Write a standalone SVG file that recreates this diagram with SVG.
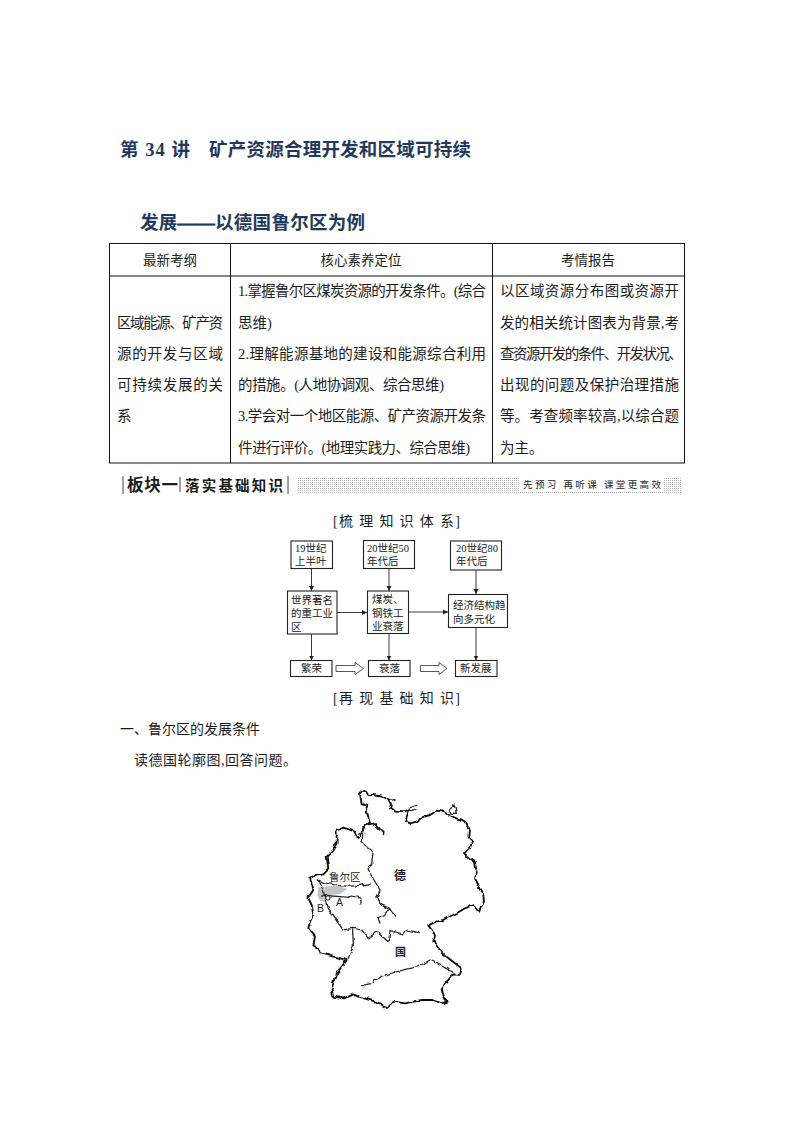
<svg xmlns="http://www.w3.org/2000/svg" width="794" height="1123" viewBox="0 0 794 1123">
<style>
text{font-family:"Liberation Serif","Noto Sans CJK SC",serif;fill:#1c1c1c}
.title{font-size:18.5px;font-weight:700;fill:#1f3a5c}
.hd{font-size:13.5px;text-anchor:middle}
.td{font-size:14.5px}
.sec{font-size:14px}
.fl{font-size:10.5px;fill:#222}
.box{fill:#fff;stroke:#222;stroke-width:1.1}
.con{fill:none;stroke:#222;stroke-width:.9;marker-end:url(#ah)}
.grid{fill:none;stroke:#111;stroke-width:1}
.big{fill:none;stroke:#444;stroke-width:.9}
.m1{fill:none;stroke:#111;stroke-width:5.5;stroke-linejoin:round;stroke-linecap:round}
.m2{fill:none;stroke:#222;stroke-width:3.8;stroke-linejoin:round;stroke-linecap:round}
.lat{font-family:"Liberation Sans",sans-serif;font-size:10.5px}
</style>
<defs>
<marker id="ah" markerWidth="6" markerHeight="6" refX="5" refY="2.5" orient="auto" markerUnits="userSpaceOnUse"><path d="M0 0L5 2.5L0 5z" fill="#222"/></marker>
<pattern id="dots" width="2" height="2" patternUnits="userSpaceOnUse"><rect width="2" height="2" fill="#fff"/><rect width="1" height="1" fill="#b5b5b5"/></pattern>
<filter id="wiggle" x="-5%" y="-5%" width="110%" height="110%"><feTurbulence type="fractalNoise" baseFrequency="0.045" numOctaves="2" seed="4"/><feDisplacementMap in="SourceGraphic" scale="14" xChannelSelector="R" yChannelSelector="G"/></filter>
</defs>
<rect width="794" height="1123" fill="#fff"/>
<g id="title">
<text class="title" x="120" y="156" textLength="70">第 34 讲</text>
<text class="title" x="209" y="156" textLength="262">矿产资源合理开发和区域可持续</text>
<text class="title" x="140" y="229" textLength="225">发展<tspan stroke="#1f3a5c" stroke-width=".7">——</tspan>以德国鲁尔区为例</text>
</g>
<g id="table">
<rect class="grid" x="109.5" y="243.5" width="575" height="219.5"/>
<path class="grid" d="M109.5 276H684.5M230.5 243.5V463M492.5 243.5V463"/>
<text class="hd" x="170" y="265">最新考纲</text>
<text class="hd" x="361" y="265">核心素养定位</text>
<text class="hd" x="588" y="265">考情报告</text>
<text class="td" x="117" y="328" textLength="106">区域能源、矿产资</text>
<text class="td" x="117" y="359" textLength="106">源的开发与区域</text>
<text class="td" x="117" y="390" textLength="106">可持续发展的关</text>
<text class="td" x="117" y="421">系</text>
<text class="td" x="238" y="296" textLength="248">1.掌握鲁尔区煤炭资源的开发条件。(综合</text>
<text class="td" x="238" y="328">思维)</text>
<text class="td" x="238" y="359" textLength="248">2.理解能源基地的建设和能源综合利用</text>
<text class="td" x="238" y="390" textLength="206">的措施。(人地协调观、综合思维)</text>
<text class="td" x="238" y="421" textLength="248">3.学会对一个地区能源、矿产资源开发条</text>
<text class="td" x="238" y="453" textLength="232">件进行评价。(地理实践力、综合思维)</text>
<text class="td" x="500" y="296" textLength="179">以区域资源分布图或资源开</text>
<text class="td" x="500" y="328" textLength="179">发的相关统计图表为背景,考</text>
<text class="td" x="500" y="359" textLength="183">查资源开发的条件、开发状况、</text>
<text class="td" x="500" y="390" textLength="179">出现的问题及保护治理措施</text>
<text class="td" x="500" y="421" textLength="179">等。考查频率较高,以综合题</text>
<text class="td" x="500" y="453">为主。</text>
</g>
<g id="banner">
<rect x="297" y="477" width="384" height="16" fill="url(#dots)"/>
<rect x="520" y="478" width="144" height="14" fill="#fff"/>
<path d="M123 476V494M180 477V492M288 476V494" stroke="#444" stroke-width="1" fill="none"/>
<text x="127" y="491" font-size="16.5" font-weight="700" fill="#000" textLength="51">板块一</text>
<text x="185" y="491" font-size="14.5" font-weight="700" textLength="98">落实基础知识</text>
<text x="523" y="488" font-size="9.5" textLength="138">先预习 再听课 课堂更高效</text>
</g>
<text class="sec" x="333" y="526" textLength="127">[梳 理 知 识 体 系]</text>
<g id="connectors">
<path class="con" d="M311.5 568.5V591"/>
<path class="con" d="M389 568.5V591"/>
<path class="con" d="M476 570V594"/>
<path class="con" d="M337 612.5H367"/>
<path class="con" d="M408.5 612H448"/>
<path class="con" d="M311.5 634V660.5"/>
<path class="con" d="M389 633.5V660.5"/>
<path class="con" d="M476 628V660.5"/>
<path class="big" d="M336 665.5H355V662.5L363.5 668.5L355 674.5V671.5H336Z"/>
<path class="big" d="M420.5 665.5H439V662.5L447 668.5L439 674.5V671.5H420.5Z"/>
</g>
<g id="n1"><rect class="box" x="291" y="541" width="41.5" height="27.5"/><text class="fl"><tspan x="295" y="552">19世纪</tspan><tspan x="295" y="565">上半叶</tspan></text></g>
<g id="n2"><rect class="box" x="363.5" y="540.5" width="51" height="28"/><text class="fl"><tspan x="367" y="552">20世纪50</tspan><tspan x="367" y="565">年代后</tspan></text></g>
<g id="n3"><rect class="box" x="450.5" y="541" width="51" height="29"/><text class="fl"><tspan x="456" y="552">20世纪80</tspan><tspan x="456" y="565">年代后</tspan></text></g>
<g id="n4"><rect class="box" x="287.5" y="591" width="49.5" height="43"/><text class="fl"><tspan x="291" y="604">世界著名</tspan><tspan x="291" y="617">的重工业</tspan><tspan x="291" y="631">区</tspan></text></g>
<g id="n5"><rect class="box" x="367.5" y="591" width="41" height="42.5"/><text class="fl"><tspan x="372" y="603">煤炭、</tspan><tspan x="372" y="617">钢铁工</tspan><tspan x="372" y="630">业衰落</tspan></text></g>
<g id="n6"><rect class="box" x="448.5" y="594.5" width="59" height="33"/><text class="fl"><tspan x="453" y="609">经济结构趋</tspan><tspan x="453" y="623">向多元化</tspan></text></g>
<g id="n7"><rect class="box" x="290.5" y="660.5" width="41.5" height="16"/><text class="fl" x="301" y="672">繁荣</text></g>
<g id="n8"><rect class="box" x="368.5" y="660.5" width="41.5" height="16"/><text class="fl" x="379" y="672">衰落</text></g>
<g id="n9"><rect class="box" x="455.5" y="660.5" width="41.5" height="16"/><text class="fl" x="460" y="672">新发展</text></g>
<text class="sec" x="333" y="703" textLength="127">[再 现 基 础 知 识]</text>
<text class="sec" x="120" y="734" textLength="140">一、鲁尔区的发展条件</text>
<text class="sec" x="134" y="765" textLength="163">读德国轮廓图,回答问题。</text>
<g id="map" transform="translate(290 780) scale(.33333)">
<path d="M85 322L145 316L172 328L150 342L118 345L105 365L90 362L82 345Z" fill="#c4c4c4"/>
<g filter="url(#wiggle)">
<path class="m1" d="M210 40L218 32L228 35L235 45L250 45L275 50L295 60L303 75L300 85L320 95L345 97L358 90L350 110L345 125L360 130L380 125L395 112L420 105L440 92L460 95L475 105L495 112L510 118L530 130L537 150L535 170L546 186L540 205L522 219L535 232L555 246L560 275L555 295L565 315L579 339L582 360L579 369L567 396L549 375L525 385L501 399L459 420L429 429L415 437L426 450L435 470L430 485L450 510L470 530L495 550L515 565L510 585L490 583L470 605L455 625L460 645L470 665L455 670L430 660L395 660L345 670L310 665L295 687L270 670L240 660L205 650L190 643L165 655L130 650L125 630L130 605L140 580L170 540L130 530L95 520L85 510L70 495L75 470L55 445L60 425L70 405L65 375L55 355L60 345L70 330L60 295L75 285L100 280L115 265L110 230L125 215L140 190L140 150L160 140L190 150L205 175L215 160L225 135L240 125L230 95L235 75L215 70Z"/>
<path class="m1" d="M225 135L250 130L270 150L282 163"/>
<path class="m2" d="M205 160L218 155L217 185"/>
<path class="m2" d="M475 88L495 72L502 100L480 100Z"/>
<path class="m2" d="M358 84L380 76M362 92L378 88"/>
<path class="m2" d="M300 62L315 58"/>
<path class="m2" d="M85 300C120 318 190 325 240 310"/>
<path class="m2" d="M95 345L150 350L175 352L188 348L212 355L213 372"/>
<path class="m2" d="M85 300L105 340L105 345L115 385L145 430L160 450L190 445L215 450L235 475L260 455L295 485L300 455L340 465L350 450L388 458"/>
<path class="m2" d="M188 450L190 495L175 535"/>
<path class="m2" d="M217 185L225 195L250 215L245 250L234 270L270 330L261 351L275 375L300 385L315 410"/>
<path class="m2" d="M261 351L275 375L300 390L264 414L270 429"/>
<path class="m2" d="M215 617L245 610L270 590L320 575L385 560L420 540L450 555L495 580"/>
</g>
<circle cx="114" cy="354" r="6.5" fill="#fff" stroke="#222" stroke-width="3"/>
</g>
<g id="map-labels">
<text x="329" y="881" font-size="10.5">鲁尔区</text>
<text x="394" y="880" font-size="12" font-weight="700">德</text>
<text x="395" y="956" font-size="11" font-weight="700">国</text>
<text class="lat" x="317" y="912">B</text>
<text class="lat" x="336" y="906">A</text>
</g>
</svg>
